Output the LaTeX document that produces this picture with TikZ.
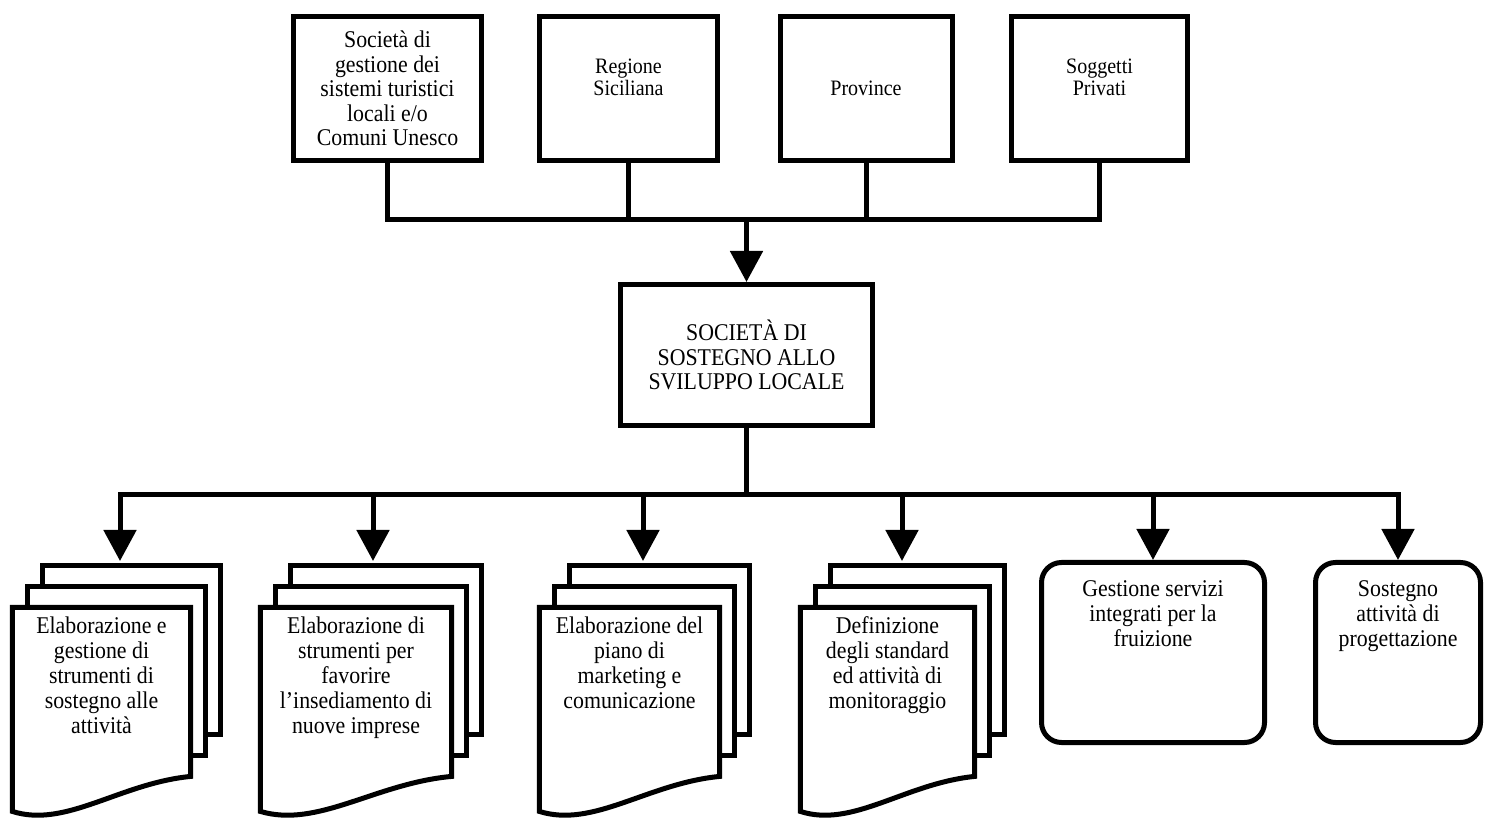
\documentclass[tikz,border=0pt]{standalone}
\usepackage{fontspec}
\setmainfont{Liberation Serif}[FakeStretch=0.91]
\usetikzlibrary{arrows.meta, positioning, calc}
\tikzset{
	box/.style={rectangle, draw, line width=5pt, minimum height=144pt, align=center, font=\fontsize{24}{24.5}\selectfont},
	roundbox/.style={rectangle, draw, line width=5pt, rounded corners=20pt, minimum height=180pt},
	docsheet/.style={rectangle, inner sep=0pt, minimum height=168.5pt},
	sheet/.style={line width=5pt, line join=miter},
	boxtext/.style={align=center, inner sep=0pt, font=\fontsize{24}{25}\selectfont},
	smalltext/.style={align=center, inner sep=0pt, font=\fontsize{22}{22}\selectfont},
	link/.style={line width=5pt},
	arrow/.style={line width=5pt, -{Triangle[length=31pt, width=32pt]}}
}
% stack of three sheets behind a front sheet with a wavy bottom
\newcommand{\docstack}[1]{%
	\draw[sheet] ([xshift=30pt,yshift=21pt]#1.north west) -- ([xshift=30pt,yshift=42pt]#1.north west)
		-- ([xshift=30pt,yshift=42pt]#1.north east) -- ([xshift=30pt,yshift=42pt]#1.south east)
		-- ([xshift=15pt,yshift=42pt]#1.south east);
	\draw[sheet] ([xshift=15pt]#1.north west) -- ([xshift=15pt,yshift=21pt]#1.north west)
		-- ([xshift=15pt,yshift=21pt]#1.north east) -- ([xshift=15pt,yshift=21pt]#1.south east)
		-- ([yshift=21pt]#1.south east);
	\draw[sheet] (#1.north west) -- (#1.north east) -- (#1.south east)
		.. controls ($(#1.south west)!.6!(#1.south east)+(0,-7)$) and ($(#1.south west)!.3!(#1.south east)+(0,-52)$)
		.. ([yshift=-35pt]#1.south west) -- cycle;
}

\begin{document}
\begin{tikzpicture}[x=1pt, y=1pt]
	\useasboundingbox (0,0) rectangle (1485,822);
	
	% Top row
	\node[box, minimum width=188pt] (s1) at (387.5,733.5) {Società di\\gestione dei\\sistemi turistici\\locali e/o\\Comuni Unesco};
	\node[box, minimum width=178pt] (s2) at (628.5,733.5) {};
	\node[smalltext] (s2t) at ([yshift=11pt]s2.center) {Regione\\Siciliana};
	\node[box, minimum width=172pt, font=\fontsize{22}{22}\selectfont] (s3) at (866,733.5) {Province};
	\node[box, minimum width=176pt] (s4) at (1099.5,733.5) {};
	\node[smalltext] (s4t) at ([yshift=11pt]s4.center) {Soggetti\\Privati};
	
	% Central company
	\node[box, minimum width=252pt, minimum height=141pt] (soc) at (746.5,467) {SOCIETÀ DI\\SOSTEGNO ALLO\\SVILUPPO LOCALE};
	
	\coordinate (hubtop) at (746.5,602);
	\coordinate (hubbot) at (746.5,327);
	
	% Bottom row: document stacks
	\node[docsheet, minimum width=178pt, anchor=north] (d1) at (101.5,214.5) {};
	\node[docsheet, minimum width=191pt, anchor=north] (d2) at (356,214.5) {};
	\node[docsheet, minimum width=180pt, anchor=north] (d3) at (629.5,214.5) {};
	\node[docsheet, minimum width=174pt, anchor=north] (d4) at (887.5,214.5) {};
	\docstack{d1}
	\docstack{d2}
	\docstack{d3}
	\docstack{d4}
	\node[boxtext, below=9pt of d1.north] (d1t) {Elaborazione e\\gestione di\\strumenti di\\sostegno alle\\attività};
	\node[boxtext, below=9pt of d2.north] (d2t) {Elaborazione di\\strumenti per\\favorire\\l’insediamento di\\nuove imprese};
	\node[boxtext, below=9pt of d3.north] (d3t) {Elaborazione del\\piano di\\marketing e\\comunicazione};
	\node[boxtext, below=9pt of d4.north] (d4t) {Definizione\\degli standard\\ed attività di\\monitoraggio};
	\coordinate (d1in) at (120,261);
	\coordinate (d2in) at (373,261);
	\coordinate (d3in) at (643,261);
	\coordinate (d4in) at (902,261);
	
	% Bottom row: rounded boxes
	\node[roundbox, minimum width=223pt] (g) at (1153,169.5) {};
	\node[boxtext, below=20pt of g.north] (gt) {Gestione servizi\\integrati per la\\fruizione};
	\node[roundbox, minimum width=165pt] (p) at (1398,169.5) {};
	\node[boxtext, below=20pt of p.north] (pt) {Sostegno\\attività di\\progettazione};
	
	% Connectors
	\draw[link] (s1.south) |- (hubtop) -| (s4.south);
	\draw[link] (s2.south) -- (s2.south |- hubtop);
	\draw[link] (s3.south) -- (s3.south |- hubtop);
	\draw[arrow] (hubtop) -- (soc.north);
	
	\draw[link] (soc.south) -- (hubbot);
	\draw[arrow] (hubbot) -| (d1in);
	\draw[arrow] (hubbot) -| (p.north);
	\foreach \t in {d2in, d3in, d4in, g.north}
		\draw[arrow] (hubbot -| \t) -- (\t);
	
\end{tikzpicture}
\end{document}
